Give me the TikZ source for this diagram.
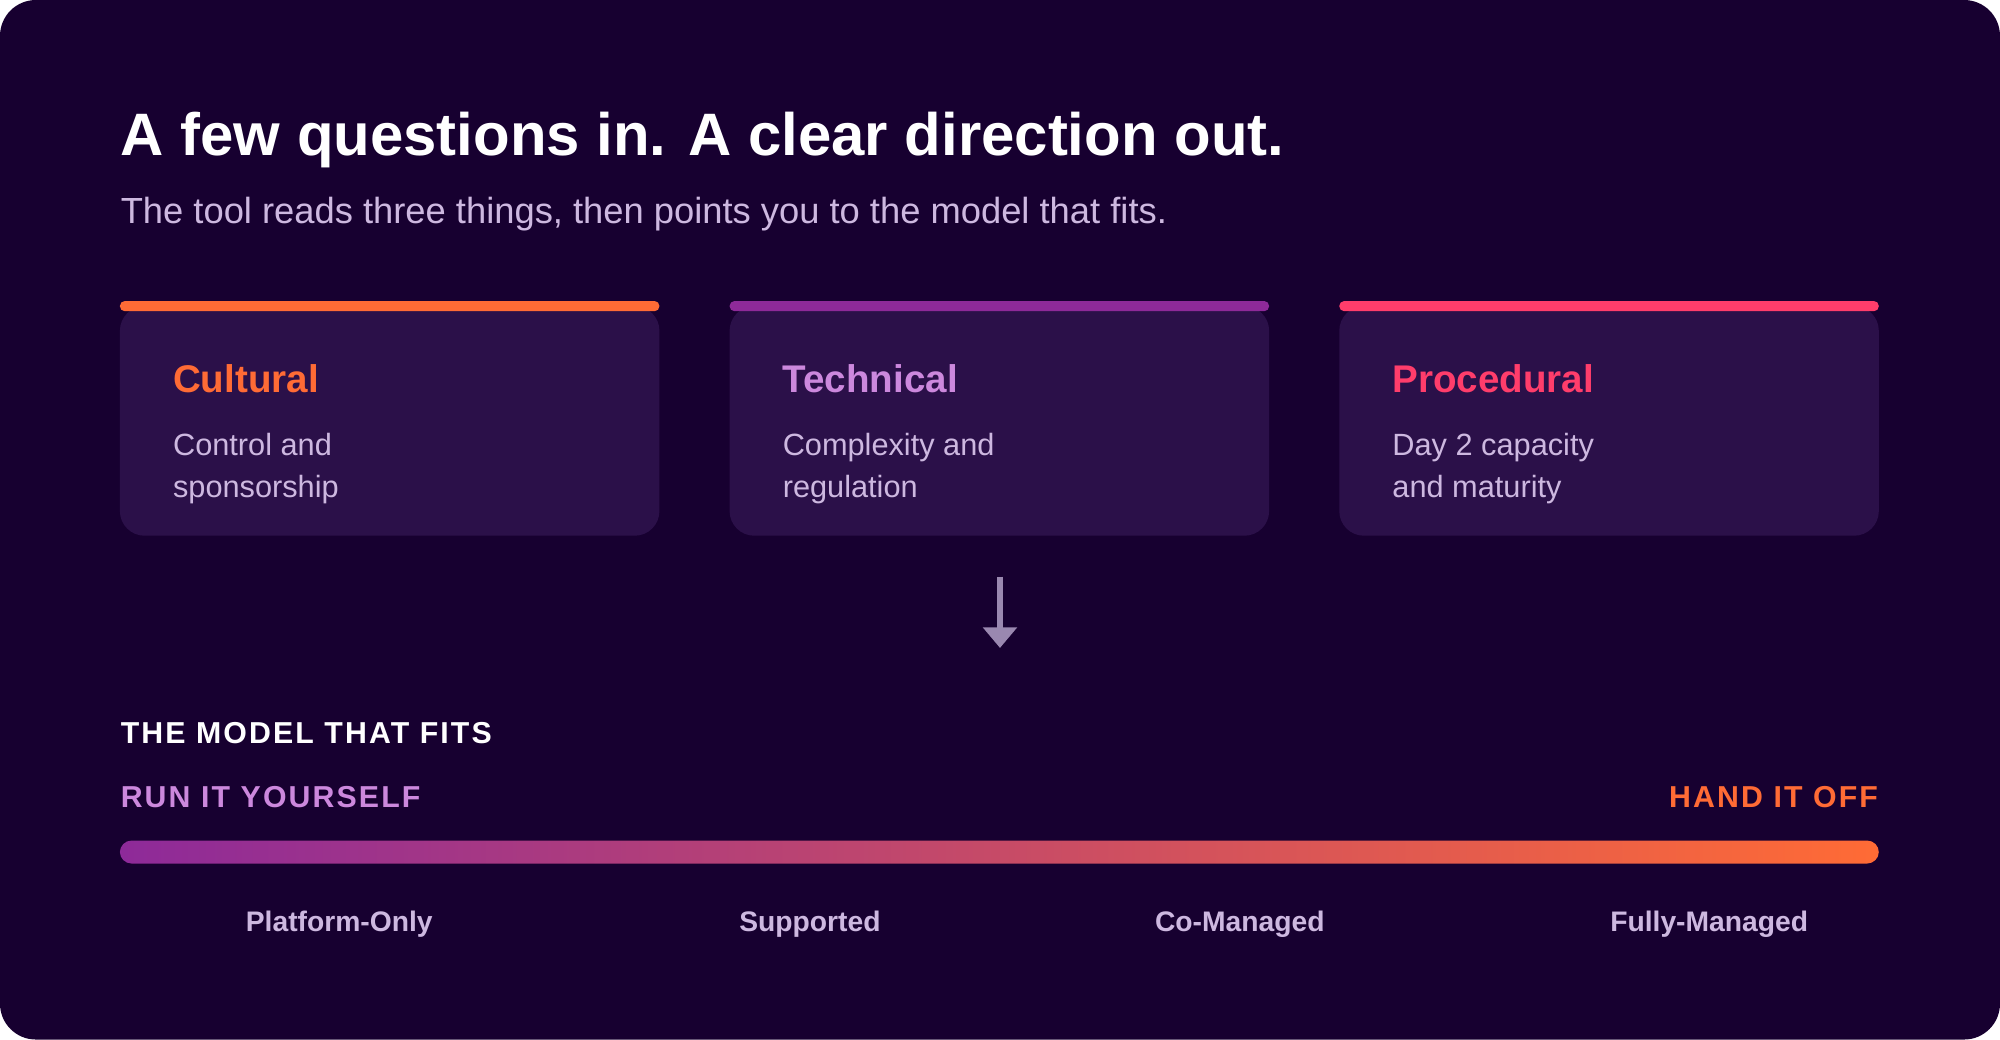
\documentclass[tikz,border=0pt]{standalone}
\usepackage{fontspec}
\setmainfont{Liberation Sans}
\newfontfamily\spacedfont[LetterSpace=7]{Liberation Sans}
\usetikzlibrary{positioning, arrows.meta}
\definecolor{bgpage}{HTML}{170030}
\definecolor{cardbg}{HTML}{2B1049}
\definecolor{accorange}{HTML}{FF6B35}
\definecolor{accpurple}{HTML}{8E2A99}
\definecolor{accpink}{HTML}{FF3D6B}
\definecolor{techtitle}{HTML}{CC88DD}
\definecolor{softtext}{HTML}{CDB8E0}
\definecolor{arrowgray}{HTML}{9A88B0}
\tikzset{
  card/.style={fill=cardbg, rounded corners=5.5pt},
  topbar/.style={rounded corners=1.1pt},
  cardtitle/.style={anchor=base west, inner sep=0pt, font=\fontsize{8.6}{10}\selectfont\bfseries},
  cardtext/.style={anchor=base west, inner sep=0pt, text=softtext,
    font=\fontsize{6.85}{9.3}\selectfont},
  spaced/.style={inner sep=0pt, font=\fontsize{6.75}{8}\spacedfont\bfseries},
  scalelabel/.style={anchor=base, inner sep=0pt, text=softtext, font=\fontsize{6.3}{8}\selectfont\bfseries},
}
\begin{document}
\begin{tikzpicture}[x=0.01cm, y=-0.01cm]

% Background
\fill[bgpage, rounded corners=8pt] (0,0) rectangle (1568,815);
\useasboundingbox (0,0) rectangle (1568,815);

% Heading
\node[anchor=base west, inner sep=0pt, text=white, font=\fontsize{13.35}{16}\selectfont\bfseries]
  (title) at (94,122) {A few questions in. A clear direction out.};
\node[anchor=base west, inner sep=0pt, text=softtext, font=\fontsize{8.1}{10}\selectfont]
  (subtitle) at (94,175) {The tool reads three things, then points you to the model that fits.};

% Cards
\foreach \x/\col/\tcol/\name/\lineone/\linetwo in {
    94/accorange/accorange/Cultural/Control and/sponsorship,
    572/accpurple/techtitle/Technical/Complexity and/regulation,
    1050/accpink/accpink/Procedural/Day 2 capacity/and maturity} {
  \fill[card] (\x,240) rectangle ++(423,180);
  \fill[\col, topbar] (\x,236) rectangle ++(423,8);
  \node[cardtitle, text=\tcol] at (\x+41,308) {\name};
  \node[cardtext] at (\x+41,357) {\lineone};
  \node[cardtext] at (\x+41,390) {\linetwo};
}

% Arrow down
\coordinate (arrtop) at (784,452);
\coordinate (arrend) at (784,508);
\draw[arrowgray, line width=1.4pt, -{Triangle[width=7.4pt, length=4.6pt]}] (arrtop) -- (arrend);

% Scale section
\node[spaced, anchor=base west, text=white] (section) at (94,583) {THE MODEL THAT FITS};
\node[spaced, anchor=base west, text=techtitle] (leftend) at (94,633) {RUN IT YOURSELF};
\node[spaced, anchor=base east, text=accorange] (rightend) at (1473,633) {HAND IT OFF};
\shade[left color=accpurple, right color=accorange, rounded corners=2.6pt]
  (94,659) rectangle (1473,677);

\foreach \x/\lbl in {266/Platform-Only, 635/Supported, 972/Co-Managed, 1340/Fully-Managed}
  \node[scalelabel] at (\x,730) {\lbl};

\end{tikzpicture}
\end{document}
